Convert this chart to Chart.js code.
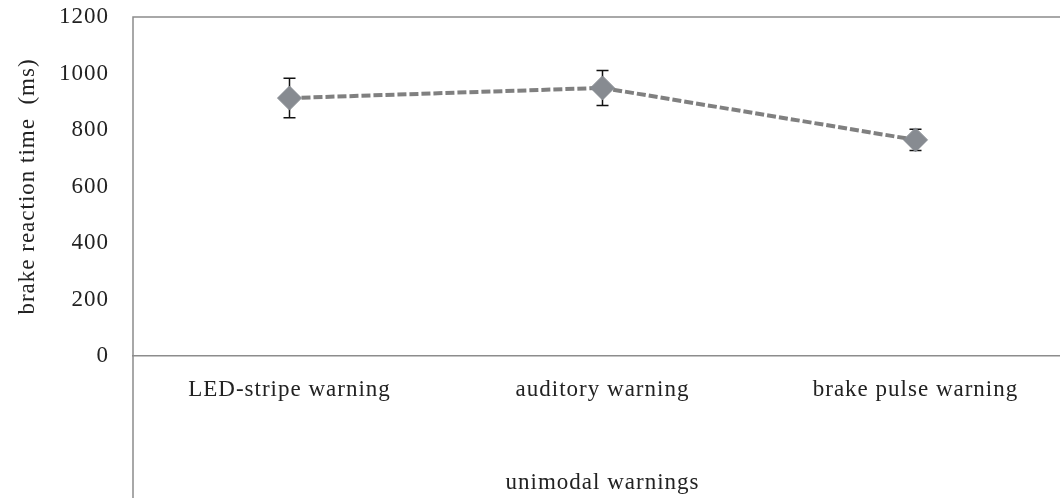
<!DOCTYPE html>
<html>
<head>
<meta charset="utf-8">
<script src="https://cdn.jsdelivr.net/npm/chart.js@4"></script>
<style>
    html, body { margin: 0; padding: 0; background: #fff; overflow: hidden; }
    #wrap { width: 1085px; height: 498px; }
</style>
</head>
<body>
<div id="wrap"><canvas id="rtChart"></canvas></div>
<script>
// Chart data
const categories = ['LED-stripe warning', 'auditory warning', 'brake pulse warning'];
const meanRT = [913, 949, 765];
const errRT = [70, 62, 38];
const yTicks = [0, 200, 400, 600, 800, 1000, 1200];

const serif = "'Liberation Serif', 'DejaVu Serif', serif";

// Slightly wider letter spacing like the original rendering
const spacing = {
    id: 'spacing',
    beforeDraw(chart) {
        chart.ctx.letterSpacing = '1px';
    }
};

// Error bars drawn from the y scale, under the markers
const errorBars = {
    id: 'errorBars',
    beforeDatasetsDraw(chart) {
        const ctx = chart.ctx;
        const xs = chart.scales.x;
        const ys = chart.scales.y;
        ctx.save();
        ctx.strokeStyle = '#111';
        ctx.lineWidth = 1.5;
        meanRT.forEach((v, i) => {
            const x = xs.getPixelForValue(i);
            const top = ys.getPixelForValue(v + errRT[i]);
            const bot = ys.getPixelForValue(v - errRT[i]);
            ctx.beginPath();
            ctx.moveTo(x, top); ctx.lineTo(x, bot);
            ctx.moveTo(x - 6, top); ctx.lineTo(x + 6, top);
            ctx.moveTo(x - 6, bot); ctx.lineTo(x + 6, bot);
            ctx.stroke();
        });
        ctx.restore();
    }
};

// Plot frame: top line and left line running to the bottom of the canvas
const plotFrame = {
    id: 'plotFrame',
    beforeDraw(chart) {
        const { ctx, chartArea } = chart;
        ctx.save();
        ctx.strokeStyle = '#8c8c8c';
        ctx.lineWidth = 1.5;
        ctx.beginPath();
        ctx.moveTo(chartArea.left, chart.height);
        ctx.lineTo(chartArea.left, chartArea.top);
        ctx.lineTo(chart.width, chartArea.top);
        ctx.stroke();
        ctx.restore();
    }
};

new Chart(document.getElementById('rtChart'), {
    type: 'line',
    data: {
        labels: categories,
        datasets: [{
            data: meanRT,
            borderColor: '#808080',
            borderWidth: 4,
            borderDash: [9, 3],
            tension: 0,
            pointStyle: 'rectRot',
            pointRadius: 12,
            pointBackgroundColor: '#878b91',
            pointBorderColor: '#878b91',
            pointBorderWidth: 1
        }]
    },
    options: {
        responsive: true,
        maintainAspectRatio: false,
        animation: false,
        layout: { padding: { top: 17, right: 2, left: 0, bottom: 0 } },
        plugins: {
            legend: { display: false },
            tooltip: { enabled: false }
        },
        scales: {
            x: {
                type: 'category',
                offset: true,
                grid: { display: false, drawTicks: false, offset: true },
                border: { display: true, color: '#8c8c8c', width: 1.5 },
                ticks: {
                    color: '#222',
                    font: { family: serif, size: 23 },
                    padding: 20,
                    maxRotation: 0,
                    autoSkip: false
                },
                title: {
                    display: true,
                    text: 'unimodal warnings',
                    color: '#222',
                    font: { family: serif, size: 23 },
                    padding: { top: 0, bottom: 1 }
                },
                afterFit: scale => { scale.height = 142; }
            },
            y: {
                min: 0,
                max: 1200,
                afterBuildTicks: scale => {
                    scale.ticks = yTicks.map(v => ({ value: v }));
                },
                grid: { display: false, drawTicks: false },
                border: { display: false },
                ticks: {
                    color: '#222',
                    font: { family: serif, size: 23 },
                    padding: 24,
                    callback: value => String(value)
                },
                title: {
                    display: true,
                    text: 'brake reaction time  (ms)',
                    color: '#222',
                    font: { family: serif, size: 23 },
                    padding: { top: 14, bottom: 0 }
                },
                afterFit: scale => {
                    scale.width = 133;
                    scale.paddingTop = 0;
                    scale.paddingBottom = 0;
                }
            }
        }
    },
    plugins: [spacing, plotFrame, errorBars]
});
</script>
</body>
</html>
